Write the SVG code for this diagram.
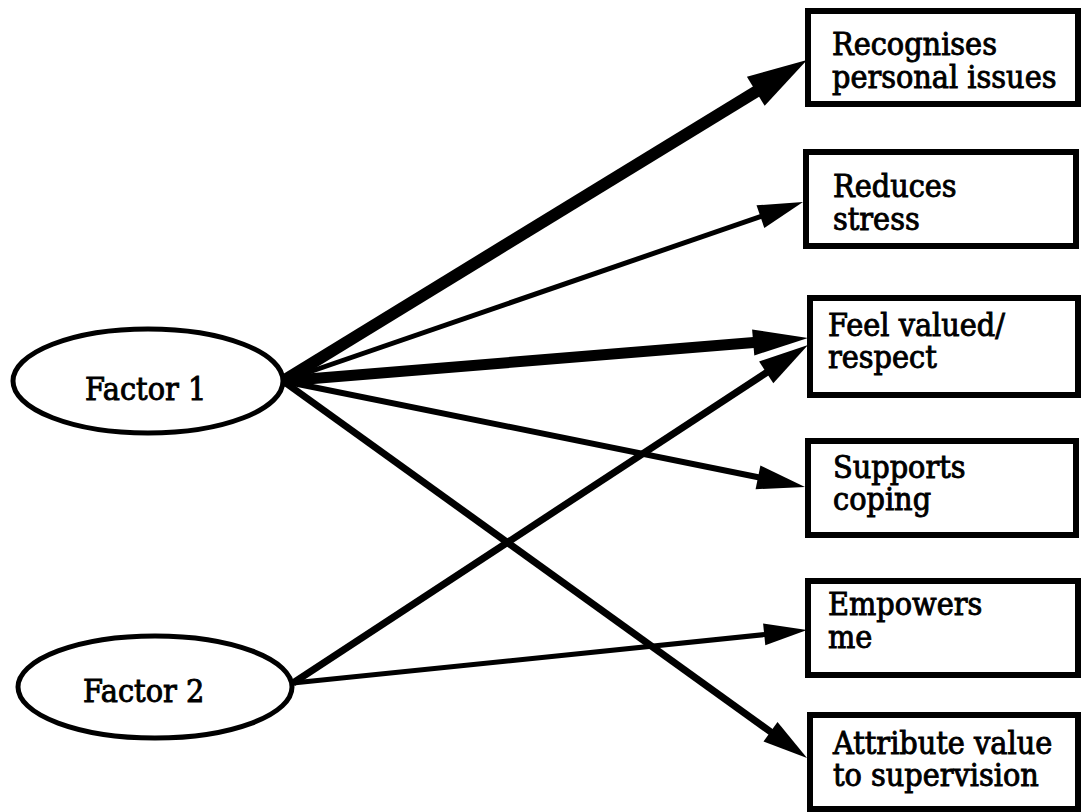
<svg xmlns="http://www.w3.org/2000/svg" width="1084" height="812" viewBox="0 0 1084 812">
<style>
.box{fill:#fff;stroke:#000;stroke-width:6}
.ell{fill:#fff;stroke:#000;stroke-width:5}
.t{font-family:"DejaVu Serif","Liberation Serif",serif;font-stretch:condensed;font-size:32px;fill:#000;stroke:#000;stroke-width:0.9}
.ln{stroke:#000;fill:none;stroke-linecap:butt}
.hd{fill:#000;stroke:none}
</style>
<rect width="1084" height="812" fill="#fff"/>
<g id="connectors">
<line class="ln" x1="283" y1="381" x2="765" y2="86" stroke-width="12"/>
<polygon class="hd" points="807,60 764.7,105.8 746.9,76.8"/>
<line class="ln" x1="283" y1="381" x2="765" y2="215" stroke-width="5"/>
<polygon class="hd" points="803,202 764.3,227.9 756.5,205.3"/>
<line class="ln" x1="283" y1="381" x2="760" y2="342" stroke-width="11"/>
<polygon class="hd" points="808,338 754.3,355.5 752.1,329.5"/>
<line class="ln" x1="283" y1="381" x2="762" y2="478" stroke-width="6"/>
<polygon class="hd" points="805,487 755.6,489.2 760.4,465.6"/>
<line class="ln" x1="283" y1="381" x2="775" y2="735" stroke-width="7"/>
<polygon class="hd" points="807,758 763.5,741.4 777.5,722"/>
<line class="ln" x1="293" y1="683" x2="772" y2="369" stroke-width="7"/>
<polygon class="hd" points="808,345 773.3,383.3 759.1,361.5"/>
<line class="ln" x1="293" y1="683" x2="770" y2="634" stroke-width="5"/>
<polygon class="hd" points="807,630 765.3,645.3 763.1,623.5"/>
</g>
<g id="factor1">
<ellipse class="ell" cx="148" cy="381" rx="135" ry="52"/>
<text class="t" x="85" y="400">Factor 1</text>
</g>
<g id="factor2">
<ellipse class="ell" cx="155" cy="687" rx="137" ry="51"/>
<text class="t" x="83" y="702">Factor 2</text>
</g>
<g id="recognises">
<rect class="box" x="808" y="11" width="270" height="93"/>
<text class="t" x="832" y="55">Recognises</text>
<text class="t" x="832" y="88">personal issues</text>
</g>
<g id="reduces">
<rect class="box" x="806" y="152" width="270" height="94"/>
<text class="t" x="833" y="197">Reduces</text>
<text class="t" x="833" y="230">stress</text>
</g>
<g id="feelvalued">
<rect class="box" x="810" y="298" width="268" height="97"/>
<text class="t" x="828" y="336">Feel valued/</text>
<text class="t" x="828" y="368">respect</text>
</g>
<g id="supports">
<rect class="box" x="808" y="441" width="268" height="94"/>
<text class="t" x="833" y="478">Supports</text>
<text class="t" x="833" y="510">coping</text>
</g>
<g id="empowers">
<rect class="box" x="808" y="581" width="270" height="94"/>
<text class="t" x="828" y="615">Empowers</text>
<text class="t" x="828" y="648">me</text>
</g>
<g id="attribute">
<rect class="box" x="810" y="715" width="268" height="94"/>
<text class="t" x="833" y="754">Attribute value</text>
<text class="t" x="833" y="786">to supervision</text>
</g>
</svg>
